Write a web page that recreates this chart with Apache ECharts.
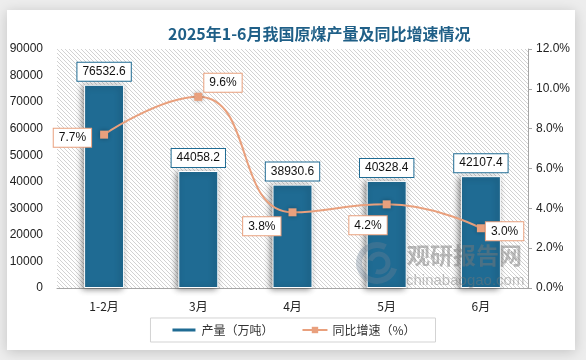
<!DOCTYPE html>
<html>
<head>
<meta charset="utf-8">
<script src="https://cdn.jsdelivr.net/npm/echarts@6/dist/echarts.min.js"></script>
<style>
html,body{margin:0;padding:0;background:#ededed;}
#c{width:586px;height:360px;}
</style>
</head>
<body>
<div id="c"></div>
<script>
const categories = ['1-2月', '3月', '4月', '5月', '6月'];
const output = [76532.6, 44058.2, 38930.6, 40328.4, 42107.4];
const growth = [7.7, 9.6, 3.8, 4.2, 3.0];
const leftTicks = { min: 0, max: 90000, interval: 10000 };
const rightTicks = { min: 0, max: 12, interval: 2 };
const titleText = '2025年1-6月我国原煤产量及同比增速情况';
const seriesNames = ['产量（万吨）', '同比增速（%）'];

const barColor = '#1f6b93';
const lineColor = '#e9a07d';

// hatch pattern
const pc = document.createElement('canvas');
pc.width = 4; pc.height = 4;
const pctx = pc.getContext('2d');
pctx.fillStyle = '#ffffff';
pctx.fillRect(0, 0, 4, 4);
pctx.strokeStyle = '#d2d2d2';
pctx.lineWidth = 1;
pctx.beginPath();
pctx.moveTo(-1, -1); pctx.lineTo(5, 5);
pctx.moveTo(-1, 3); pctx.lineTo(1, 5);
pctx.moveTo(3, -1); pctx.lineTo(5, 1);
pctx.stroke();

const lineLabelPos = [
  { position: 'left', distance: 9, offset: [0, 3] },
  { position: 'right', distance: 2, offset: [0, -14] },
  { position: 'left', distance: 8, offset: [0, 14] },
  { position: 'left', distance: 0, offset: [4, 21] },
  { position: 'right', distance: 1, offset: [0, 3] }
];

const chart = echarts.init(document.getElementById('c'));
chart.setOption({
  animation: false,
  textStyle: { fontFamily: 'Liberation Sans, Arial, sans-serif' },
  graphic: [
    {
      type: 'rect', z: -10, silent: true,
      shape: { x: 7, y: 10, width: 568, height: 340 },
      style: { fill: '#ffffff', shadowBlur: 12, shadowColor: 'rgba(0,0,0,0.18)', shadowOffsetX: 0, shadowOffsetY: 2 }
    },
    {
      type: 'text', z: 5, silent: true, left: 407, top: 244,
      style: { text: '观研报告网', fill: 'rgba(120,120,120,0.5)', font: 'bold 23px "Noto Sans CJK SC"' }
    },
    {
      type: 'text', z: 5, silent: true, left: 406, top: 273,
      style: { text: 'chinabaogao.com', fill: 'rgba(120,120,120,0.45)', font: '15px "Liberation Sans"' }
    },
    {
      type: 'arc', z: 5, silent: true,
      shape: { cx: 377, cy: 263, r: 18, startAngle: 0.3, endAngle: 5.2 },
      style: { fill: 'none', stroke: 'rgba(110,130,150,0.35)', lineWidth: 6 }
    },
    {
      type: 'arc', z: 5, silent: true,
      shape: { cx: 379, cy: 263, r: 9, startAngle: 3.4, endAngle: 8.2 },
      style: { fill: 'none', stroke: 'rgba(110,130,150,0.35)', lineWidth: 5 }
    }
  ],
  title: {
    text: titleText,
    left: 163, top: 21,
    textStyle: { fontFamily: 'Noto Sans CJK SC', fontWeight: 'bold', fontSize: 16, color: '#1f5f87' }
  },
  legend: {
    data: [
      { name: seriesNames[0], icon: 'path://M0,0h25v5h-25z' },
      { name: seriesNames[1] }
    ],
    bottom: 18, left: 'center',
    itemWidth: 25, itemHeight: 8, itemGap: 28,
    borderColor: '#d3d3d3', borderWidth: 1,
    padding: [6, 20, 6, 20],
    textStyle: { fontFamily: 'Noto Sans CJK SC', fontSize: 12, color: '#333' }
  },
  grid: {
    left: 57, right: 58, top: 49, bottom: 72,
    show: true, borderWidth: 0,
    backgroundColor: { image: pc, repeat: 'repeat' }
  },
  xAxis: {
    type: 'category', data: categories,
    axisLine: { lineStyle: { color: '#a6a6a6' } },
    axisTick: { show: false },
    axisLabel: { color: '#222', fontSize: 12, margin: 12, fontFamily: 'Noto Sans CJK SC' }
  },
  yAxis: [
    {
      type: 'value', min: leftTicks.min, max: leftTicks.max, interval: leftTicks.interval,
      axisLine: { show: false }, axisTick: { show: false }, splitLine: { show: false },
      axisLabel: { color: '#222', fontSize: 12, margin: 14, formatter: v => String(v) }
    },
    {
      type: 'value', min: rightTicks.min, max: rightTicks.max, interval: rightTicks.interval,
      axisLine: { show: true, lineStyle: { color: '#a6a6a6' } },
      axisTick: { show: true, length: 4, lineStyle: { color: '#a6a6a6' } },
      splitLine: { show: false },
      axisLabel: { color: '#222', fontSize: 12, margin: 8, formatter: v => v.toFixed(1) + '%' }
    }
  ],
  series: [
    {
      name: seriesNames[0], type: 'bar', data: output, barWidth: 40, z: 2,
      itemStyle: {
        color: barColor, borderColor: '#ffffff', borderWidth: 1,
        shadowBlur: 6, shadowColor: 'rgba(0,0,0,0.45)', shadowOffsetX: -2, shadowOffsetY: 1
      },
      label: {
        show: true, position: 'top', distance: 4,
        color: '#111', fontSize: 12,
        backgroundColor: '#fff', borderColor: barColor, borderWidth: 1,
        padding: [3, 5, 3, 5],
        formatter: p => p.value.toFixed(1)
      }
    },
    {
      name: seriesNames[1], type: 'line', yAxisIndex: 1, smooth: 0.5, z: 3,
      data: growth.map((v, i) => ({ value: v, label: lineLabelPos[i] })),
      symbol: 'rect', symbolSize: 8,
      lineStyle: { color: lineColor, width: 2 },
      itemStyle: { color: lineColor, shadowBlur: 4, shadowColor: 'rgba(0,0,0,0.3)' },
      label: {
        show: true, color: '#111', fontSize: 12,
        backgroundColor: '#fff', borderColor: lineColor, borderWidth: 1,
        padding: [3, 5, 3, 5],
        formatter: p => p.value.toFixed(1) + '%'
      }
    }
  ]
});
</script>
</body>
</html>
